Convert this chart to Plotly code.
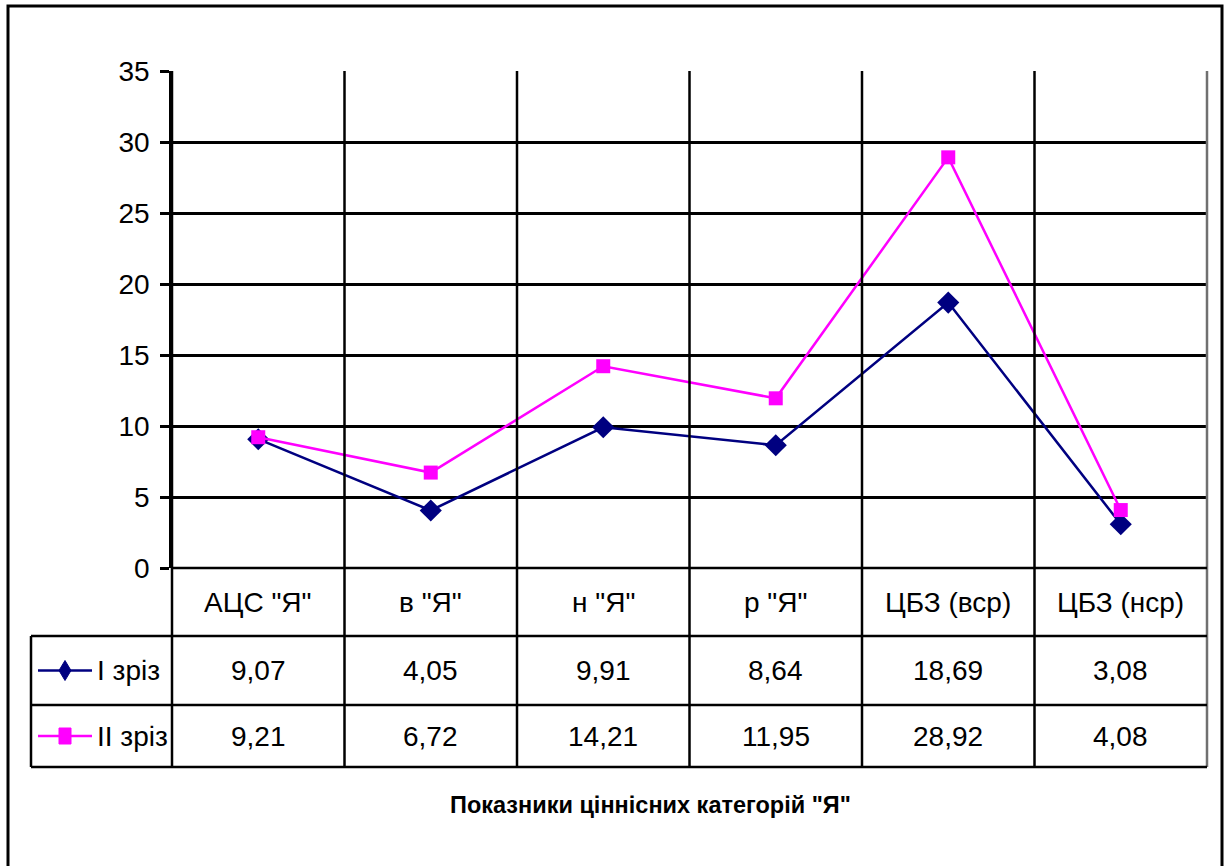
import plotly.graph_objects as go

# Category labels and the two survey waves
categories = ['АЦС "Я"', 'в "Я"', 'н "Я"', 'р "Я"', 'ЦБЗ (вср)', 'ЦБЗ (нср)']
series_names = ['I зріз', 'II зріз']
wave1 = [9.07, 4.05, 9.91, 8.64, 18.69, 3.08]
wave2 = [9.21, 6.72, 14.21, 11.95, 28.92, 4.08]
y_ticks = [0, 5, 10, 15, 20, 25, 30, 35]
x_title = 'Показники ціннісних категорій "Я"'

W, H = 1224, 866
L, R, T, B = 172, 1207, 71, 568          # plot area in pixels
ROWS = [568, 636, 705, 767]              # data-table row boundaries
TABLE_LEFT = 31
FONT = "Liberation Sans, Arial, sans-serif"
colors = ['#000080', '#FF00FF']
symbols = ['diamond', 'square']
sizes = [17, 14]

n = len(categories)


def px_x(p):
    return (p - L) / (R - L)


def px_y(p):
    return (B - p) / (B - T)


def cat_x(i):
    # paper x of category centre / boundary (index may be fractional)
    return (i + 0.5) / n


fig = go.Figure()
for name, vals, c, s, sz in zip(series_names, [wave1, wave2], colors, symbols, sizes):
    fig.add_trace(go.Scatter(
        x=list(range(n)), y=vals, name=name, mode='lines+markers',
        line=dict(color=c, width=2.5),
        marker=dict(symbol=s, size=sz, color=c, line=dict(width=0)),
        showlegend=False, cliponaxis=False,
    ))

shapes = []
line_k = dict(color='black', width=2.5)

# vertical category dividers running through plot and table
for i in range(n + 1):
    xp = cat_x(i - 0.5)
    shapes.append(dict(type='line', xref='paper', yref='paper',
                       x0=xp, x1=xp, y0=1, y1=px_y(ROWS[-1]),
                       line=dict(color='#707070' if i == n else 'black', width=2.5)))
# table horizontal lines
shapes.append(dict(type='line', xref='paper', yref='paper', x0=0, x1=1,
                   y0=px_y(ROWS[0]), y1=px_y(ROWS[0]), line=line_k))
for r in ROWS[1:]:
    shapes.append(dict(type='line', xref='paper', yref='paper',
                       x0=px_x(TABLE_LEFT), x1=1, y0=px_y(r), y1=px_y(r), line=line_k))
# table left edge
shapes.append(dict(type='line', xref='paper', yref='paper',
                   x0=px_x(TABLE_LEFT), x1=px_x(TABLE_LEFT),
                   y0=px_y(ROWS[1]), y1=px_y(ROWS[-1]), line=line_k))
# outer frame of the chart
shapes.append(dict(type='rect', xref='paper', yref='paper',
                   x0=px_x(8), x1=px_x(1222), y0=px_y(6), y1=px_y(H + 10),
                   line=dict(color='black', width=3)))

annotations = []
cell_font = dict(family=FONT, size=28, color='black')
# category header row
for i, c in enumerate(categories):
    annotations.append(dict(xref='paper', yref='paper', x=cat_x(i),
                            y=px_y((ROWS[0] + ROWS[1]) / 2), text=c, showarrow=False,
                            font=cell_font, xanchor='center', yanchor='middle'))
# value rows with legend keys
for r, (name, vals, c, s) in enumerate(zip(series_names, [wave1, wave2], colors, symbols)):
    yc = (ROWS[r + 1] + ROWS[r + 2]) / 2
    for i, v in enumerate(vals):
        annotations.append(dict(xref='paper', yref='paper', x=cat_x(i), y=px_y(yc),
                                text=f'{v:.2f}'.replace('.', ','), showarrow=False,
                                font=cell_font, xanchor='center', yanchor='middle'))
    annotations.append(dict(xref='paper', yref='paper', x=px_x(95), y=px_y(yc),
                            text=name, showarrow=False, font=cell_font,
                            xanchor='left', yanchor='middle'))
    # key line
    shapes.append(dict(type='line', xref='paper', yref='paper',
                       x0=px_x(38), x1=px_x(92), y0=px_y(yc), y1=px_y(yc),
                       line=dict(color=c, width=2.5)))
    # key marker
    mx = 65
    if s == 'diamond':
        pts = [(mx, yc - 10), (mx + 6, yc), (mx, yc + 10), (mx - 6, yc)]
        path = 'M ' + ' L '.join(f'{px_x(a):.5f},{px_y(b):.5f}' for a, b in pts) + ' Z'
        shapes.append(dict(type='path', xref='paper', yref='paper', path=path,
                           fillcolor=c, line=dict(color=c, width=1)))
    else:
        shapes.append(dict(type='rect', xref='paper', yref='paper',
                           x0=px_x(mx - 6), x1=px_x(mx + 6),
                           y0=px_y(yc - 8), y1=px_y(yc + 8),
                           fillcolor=c, line=dict(color=c, width=1)))

annotations.append(dict(xref='paper', yref='paper', x=px_x(650), y=px_y(805),
                        text=f'<b>{x_title}</b>', showarrow=False,
                        font=dict(family=FONT, size=23.5, color='black'),
                        xanchor='center', yanchor='middle'))

fig.update_layout(
    width=W, height=H,
    margin=dict(l=L, r=W - R, t=T, b=H - B, pad=0),
    paper_bgcolor='white', plot_bgcolor='white',
    font=dict(family=FONT, color='black'),
    xaxis=dict(range=[-0.5, n - 0.5], showticklabels=False, showgrid=False,
               zeroline=False, showline=False, ticks='', fixedrange=True),
    yaxis=dict(range=[0, 35], tickvals=y_ticks, showgrid=True, gridcolor='black',
               gridwidth=2.5, zeroline=False, showline=True, linecolor='black',
               linewidth=2.5, ticks='outside', ticklen=9, tickwidth=2.5,
               tickcolor='black', tickfont=dict(family=FONT, size=28),
               ticklabelstandoff=5, fixedrange=True),
    shapes=shapes, annotations=annotations,
)

fig.write_html("out.html")
